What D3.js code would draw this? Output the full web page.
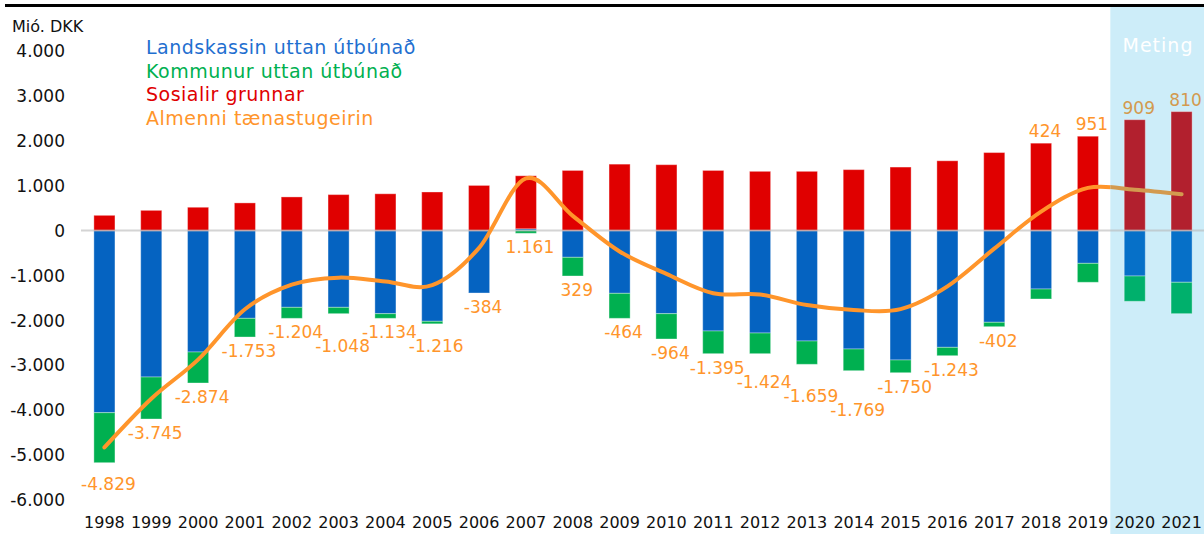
<!DOCTYPE html>
<html lang="fo">
<head>
<meta charset="UTF-8">
<title>Almenni tænastugeirin</title>
<style>
  body { margin: 0; background: #fff; }
  svg { display: block; font-family: "DejaVu Sans", Verdana, sans-serif; }
  .tick-y { font-size: 17px; fill: #111; }
  .tick-x { font-size: 16px; fill: #111; }
  .lbl { font-size: 17px; }
  .legend text { font-size: 19px; letter-spacing: 0.5px; }
</style>
</head>
<body>
<script src="https://cdn.jsdelivr.net/npm/d3@7/dist/d3.min.js"></script>
<script>
// years on the x axis
var years = ["1998","1999","2000","2001","2002","2003","2004","2005","2006","2007","2008","2009",
             "2010","2011","2012","2013","2014","2015","2016","2017","2018","2019","2020","2021"]
var forecastFrom = "2020"

// Landskassin uttan útbúnað
var landskassin = [-4055,-3261,-2704,-1954,-1709,-1709,-1850,-2020,-1390,40,-595,-1397,
                   -1850,-2236,-2281,-2459,-2637,-2882,-2600,-2042,-1301,-729,-1011,-1151]
// Kommunur uttan útbúnað
var kommunur = [-1114,-935,-690,-416,-245,-141,-104,-56,0,-60,-416,-557,
                -564,-505,-460,-519,-483,-283,-186,-98,-222,-422,-564,-699]
// Sosialir grunnar
var sosialir = [340,451,520,617,750,802,820,860,1006,1181,1340,1480,
                1468,1340,1320,1320,1358,1415,1555,1738,1947,2102,2470,2650]
// Almenni tænastugeirin (line)
var almenni = [-4829,-3745,-2874,-1753,-1204,-1048,-1134,-1216,-384,1161,329,-464,
               -964,-1395,-1424,-1659,-1769,-1750,-1243,-402,424,951,909,810]

var yTicks = [4000,3000,2000,1000,0,-1000,-2000,-3000,-4000,-5000,-6000]
var legendNames = ["Landskassin uttan útbúnað","Kommunur uttan útbúnað","Sosialir grunnar","Almenni tænastugeirin"]

var W = 1204, H = 534
var col = {
  land: "#0563c1", komm: "#00b050", sos: "#e00000", line: "#ff952b",
  landF: "#0670c8", kommF: "#00b06c", sosF: "#b2202e", lineF: "#d39a4f",
  shade: "#cdedf9"
}

var loc = d3.formatLocale({decimal: ",", thousands: ".", grouping: [3], currency: ["", ""], minus: "-"})
var fmt = loc.format(",d")

var rows = years.map(function (y, i) {
  return {year: y, land: landskassin[i], komm: kommunur[i], sos: sosialir[i], tot: almenni[i]}
})

var x = d3.scaleBand().domain(years).range([81, 1205]).padding(0)
var y = d3.scaleLinear().domain([-6000, 4000]).range([500, 51])
var barW = x.bandwidth() * 0.45
var cx = function (d) { return x(d) + x.bandwidth() / 2 }

var svg = d3.select("body").append("svg").attr("width", W).attr("height", H)

// forecast shading
var fx = x(forecastFrom) - 1
svg.append("rect").attr("x", fx).attr("y", 7).attr("width", W - fx).attr("height", H - 7).attr("fill", col.shade)

// title rule (title itself is cut off above)
svg.append("line").attr("x1", 5).attr("x2", W).attr("y1", 5.5).attr("y2", 5.5)
  .attr("stroke", "#000").attr("stroke-width", 3)

svg.append("text").attr("x", 1158).attr("y", 52).attr("text-anchor", "middle")
  .attr("fill", "#fff").style("font-size", "19px").style("letter-spacing", "1px").text("Meting")

// y axis labels
svg.append("text").attr("x", 12).attr("y", 32).style("font-size", "16px").attr("fill", "#111").text("Mió. DKK")
svg.append("g").selectAll("text").data(yTicks).enter().append("text")
  .attr("class", "tick-y").attr("x", 65).attr("y", function (d) { return y(d) })
  .attr("dy", "0.36em").attr("text-anchor", "end").text(function (d) { return fmt(d) })

// x axis labels
svg.append("g").selectAll("text").data(years).enter().append("text")
  .attr("class", "tick-x").attr("x", function (d) { return cx(d) }).attr("y", 522)
  .attr("dy", "0.36em").attr("text-anchor", "middle").text(function (d) { return d })

// stacked bars
var keys = ["land", "komm", "sos"]
var stack = d3.stack().keys(keys).offset(d3.stackOffsetDiverging)(rows)
var isF = function (yr) { return +yr >= +forecastFrom }

svg.append("g").selectAll("g").data(stack).enter().append("g")
  .each(function (s) {
    d3.select(this).selectAll("rect").data(s).enter().append("rect")
      .attr("x", function (d) { return cx(d.data.year) - barW / 2 })
      .attr("width", barW)
      .attr("y", function (d) { return y(Math.max(d[0], d[1])) })
      .attr("height", function (d) { return Math.abs(y(d[0]) - y(d[1])) })
      .attr("fill", function (d) { return isF(d.data.year) ? col[s.key + "F"] : col[s.key] })
      .attr("stroke", "rgba(255,255,255,0.35)").attr("stroke-width", 1)
  })

// zero line
svg.append("line").attr("x1", 81).attr("x2", W).attr("y1", y(0)).attr("y2", y(0))
  .attr("stroke", "#b8b8b8").attr("stroke-opacity", 0.6).attr("stroke-width", 2)

// smoothed line, split in colour at the forecast boundary
var defs = svg.append("defs")
defs.append("clipPath").attr("id", "clipA").append("rect").attr("x", 0).attr("y", 0).attr("width", fx).attr("height", H)
defs.append("clipPath").attr("id", "clipB").append("rect").attr("x", fx).attr("y", 0).attr("width", W - fx).attr("height", H)

var line = d3.line()
  .x(function (d) { return cx(d.year) })
  .y(function (d) { return y(d.tot) })
  .curve(d3.curveCatmullRom.alpha(0))

svg.append("path").datum(rows).attr("d", line).attr("fill", "none")
  .attr("stroke", col.line).attr("stroke-width", 4).attr("stroke-linecap", "round").attr("clip-path", "url(#clipA)")
svg.append("path").datum(rows).attr("d", line).attr("fill", "none")
  .attr("stroke", col.lineF).attr("stroke-width", 4).attr("stroke-linecap", "round").attr("clip-path", "url(#clipB)")

// data labels: below the stack, pushed down when they collide with the previous one
var prevY = null
rows.forEach(function (d, i) {
  var bottom = Math.min(0, d.land) + Math.min(0, d.komm) + Math.min(0, d.sos)
  var top = Math.max(0, d.land) + Math.max(0, d.komm) + Math.max(0, d.sos)
  var ly
  if (i >= 20) {
    ly = y(top) - 12
    prevY = null
  } else {
    ly = y(Math.min(bottom, 0)) + 14
    if (i === 0) ly += 7
    if (prevY !== null && Math.abs(ly - prevY) < 14) ly = prevY + 14
    prevY = ly
  }
  svg.append("text").attr("class", "lbl")
    .attr("x", cx(d.year) + 4).attr("y", ly).attr("dy", "0.36em")
    .attr("text-anchor", "middle")
    .attr("fill", isF(d.year) ? col.lineF : col.line)
    .text(fmt(d.tot))
})

// legend
var lg = svg.append("g").attr("class", "legend")
var lgCol = [col.land, col.komm, col.sos, col.line]
lg.selectAll("text").data(legendNames).enter().append("text")
  .attr("x", 146).attr("y", function (d, i) { return 54 + i * 23.6 })
  .attr("fill", function (d, i) { return i === 0 ? "#1f6fd0" : lgCol[i] })
  .text(function (d) { return d })
</script>
</body>
</html>
